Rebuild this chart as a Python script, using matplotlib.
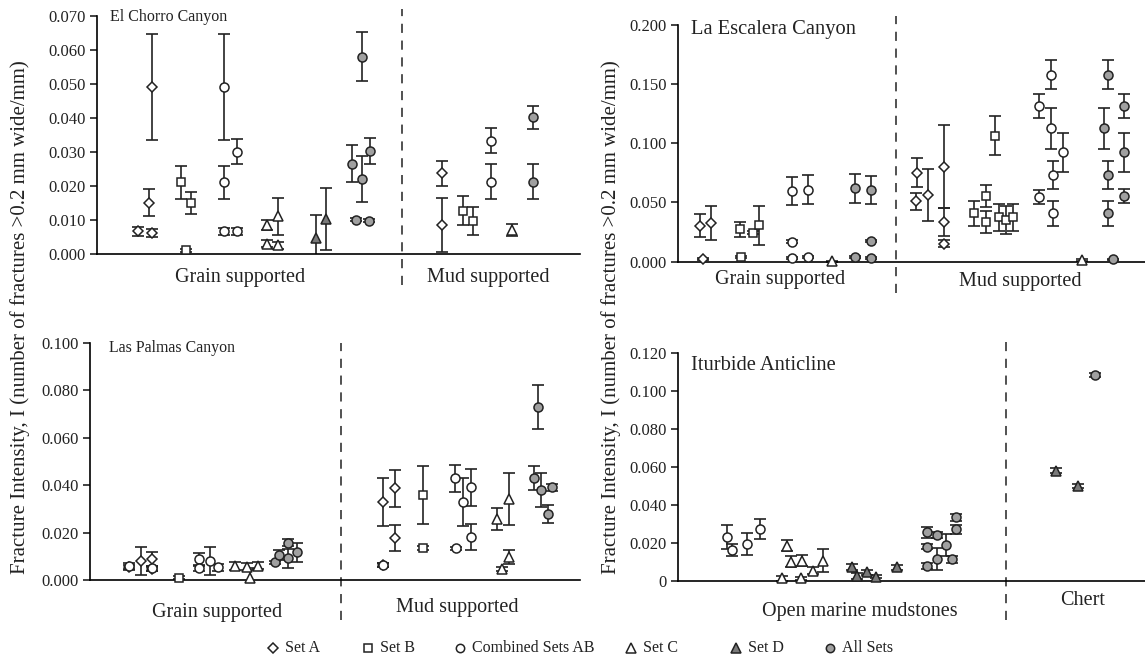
import matplotlib.pyplot as plt
from matplotlib.lines import Line2D
import matplotlib.transforms as mtransforms

plt.rcParams['font.family'] = ['Liberation Serif', 'DejaVu Serif']

# x = sample position along each panel (0-100), y = fracture intensity, e = error
# ---- El Chorro Canyon
ec_a_x = [8.5, 10.8, 11.4, 11.4, 71.5, 71.5]
ec_a_y = [0.0066, 0.015, 0.049, 0.006, 0.0236, 0.0084]
ec_a_e = [0.0013, 0.004, 0.0155, 0.0012, 0.0037, 0.008]
ec_b_x = [17.4, 18.4, 19.5, 75.7, 77.8]
ec_b_y = [0.021, 0.001, 0.015, 0.0127, 0.0096]
ec_b_e = [0.0048, 0.0005, 0.0032, 0.0042, 0.0042]
ec_ab_x = [26.4, 26.4, 26.4, 29.0, 29.0, 81.5, 81.5]
ec_ab_y = [0.049, 0.021, 0.0066, 0.030, 0.0066, 0.0332, 0.0212]
ec_ab_e = [0.0155, 0.0048, 0.001, 0.0037, 0.001, 0.0037, 0.0051]
ec_c_x = [35.1, 37.5, 35.1, 37.5, 86.0]
ec_c_y = [0.0085, 0.011, 0.003, 0.0025, 0.007]
ec_c_e = [0.0015, 0.0055, 0.001, 0.001, 0.0018]
ec_d_x = [45.3, 47.5]
ec_d_y = [0.0045, 0.0102]
ec_d_e = [0.0068, 0.009]
ec_all_x = [52.9, 54.9, 54.9, 56.5, 53.7, 56.3, 90.3, 90.3]
ec_all_y = [0.0265, 0.058, 0.022, 0.0303, 0.0100, 0.0097, 0.0401, 0.0212]
ec_all_e = [0.0054, 0.0073, 0.0067, 0.0038, 0.0005, 0.0005, 0.0033, 0.0051]

# ---- La Escalera Canyon
le_a_x = [4.7, 7.1, 5.4, 51.1, 50.9, 53.6, 57.0, 57.0, 57.0]
le_a_y = [0.0304, 0.0329, 0.0023, 0.0751, 0.0509, 0.0563, 0.0802, 0.0332, 0.0152]
le_a_e = [0.0099, 0.0143, 0.001, 0.012, 0.007, 0.0222, 0.035, 0.0117, 0.003]
le_b_x = [13.2, 13.5, 16.1, 17.3, 67.9, 66.0, 63.4, 66.0, 68.7, 70.2, 71.8]
le_b_y = [0.0273, 0.0042, 0.0245, 0.0306, 0.1063, 0.0554, 0.0408, 0.0332, 0.0374, 0.0352, 0.0374]
le_b_e = [0.0064, 0.001, 0.001, 0.0164, 0.0163, 0.0094, 0.0105, 0.0092, 0.0115, 0.0117, 0.0115]
le_ab_x = [24.4, 27.8, 24.4, 24.4, 27.8, 77.2, 77.2, 79.9, 79.9, 80.2, 80.2, 82.4]
le_ab_y = [0.0597, 0.0608, 0.0169, 0.0033, 0.0042, 0.1314, 0.0549, 0.1578, 0.1125, 0.0731, 0.0408, 0.0923]
le_ab_e = [0.012, 0.012, 0.001, 0.0008, 0.0008, 0.01, 0.006, 0.012, 0.0176, 0.0115, 0.0108, 0.0165]
le_c_x = [33.0, 86.6]
le_c_y = [0.0005, 0.0015]
le_c_e = [0.0005, 0.0005]
le_all_x = [37.9, 41.3, 41.3, 41.3, 37.9, 92.1, 91.3, 92.0, 92.0, 93.2, 95.4, 95.4, 95.5]
le_all_y = [0.0619, 0.0605, 0.0177, 0.0028, 0.0042, 0.1578, 0.1125, 0.0731, 0.0408, 0.002, 0.1314, 0.0923, 0.0557]
le_all_e = [0.012, 0.012, 0.001, 0.0008, 0.0008, 0.012, 0.0176, 0.0115, 0.0108, 0.0005, 0.01, 0.0165, 0.006]

# ---- Las Palmas Canyon
lp_a_x = [8.0, 10.4, 12.6, 12.6, 59.7, 59.7, 62.2, 62.2]
lp_a_y = [0.0053, 0.0081, 0.0088, 0.0046, 0.0063, 0.033, 0.0386, 0.0178]
lp_a_e = [0.001, 0.0059, 0.003, 0.001, 0.001, 0.0101, 0.0078, 0.0054]
lp_b_x = [18.2, 67.9, 68.0]
lp_b_y = [0.001, 0.0358, 0.0136]
lp_b_e = [0.0005, 0.0123, 0.0008]
lp_ab_x = [8.0, 12.6, 22.3, 22.3, 24.5, 26.2, 59.7, 74.5, 74.7, 76.2, 77.7, 77.7]
lp_ab_y = [0.0059, 0.0049, 0.0088, 0.0049, 0.0081, 0.0053, 0.0063, 0.0428, 0.0133, 0.033, 0.039, 0.018]
lp_ab_e = [0.0012, 0.001, 0.0025, 0.001, 0.0059, 0.0015, 0.001, 0.0057, 0.0008, 0.0101, 0.0078, 0.0054]
lp_c_x = [29.6, 32.0, 32.7, 34.2, 83.0, 85.4, 84.0, 85.6]
lp_c_y = [0.0059, 0.0056, 0.001, 0.006, 0.0257, 0.0341, 0.0045, 0.0096]
lp_c_e = [0.0015, 0.0015, 0.004, 0.0015, 0.0046, 0.011, 0.0008, 0.003]
lp_all_x = [37.8, 38.6, 40.5, 40.5, 42.2, 90.5, 91.5, 92.0, 94.2, 93.4]
lp_all_y = [0.0074, 0.0105, 0.0157, 0.0091, 0.0117, 0.0431, 0.0728, 0.0379, 0.039, 0.0278]
lp_all_e = [0.0008, 0.002, 0.0015, 0.004, 0.004, 0.005, 0.0092, 0.007, 0.0015, 0.0037]

# ---- Iturbide Anticline
ia_ab_x = [10.6, 11.6, 14.8, 17.6]
ia_ab_y = [0.0232, 0.0162, 0.0194, 0.0273]
ia_ab_e = [0.0064, 0.0033, 0.0056, 0.0055]
ia_c_x = [23.4, 22.3, 24.3, 26.5, 26.3, 29.0, 31.0]
ia_c_y = [0.0185, 0.0012, 0.010, 0.0106, 0.0012, 0.0053, 0.0106]
ia_c_e = [0.003, 0.0015, 0.003, 0.003, 0.0008, 0.002, 0.0059]
ia_d_x = [37.3, 38.3, 40.5, 42.5, 46.8, 80.9, 85.7]
ia_d_y = [0.0074, 0.0025, 0.0044, 0.0021, 0.007, 0.0581, 0.0501]
ia_d_e = [0.0015, 0.0015, 0.0015, 0.0008, 0.0015, 0.0012, 0.0012]
ia_all_x = [53.3, 53.4, 53.4, 55.5, 55.5, 57.4, 58.6, 59.5, 59.5, 89.4]
ia_all_y = [0.0255, 0.018, 0.0077, 0.0241, 0.0114, 0.0188, 0.0113, 0.0334, 0.0271, 0.1086]
ia_all_e = [0.003, 0.0015, 0.0015, 0.0015, 0.0059, 0.006, 0.002, 0.002, 0.0025, 0.001]

styles = {
    'A': dict(marker='D', mfc='white', ms=5.5, label='Set A'),
    'B': dict(marker='s', mfc='white', ms=6, label='Set B'),
    'AB': dict(marker='o', mfc='white', ms=6.5, label='Combined Sets AB'),
    'C': dict(marker='^', mfc='white', ms=7, label='Set C'),
    'D': dict(marker='^', mfc='#7a7a7a', ms=7, label='Set D'),
    'All': dict(marker='o', mfc='#a0a0a0', ms=6.5, label='All Sets'),
}

panels = [
    dict(rect=[0.0847, 0.6173, 0.4218, 0.359], ylim=0.070, step=0.010,
         title='El Chorro Canyon', tsize=11.5, tpos=(0.027, 0.996),
         series=[('A', ec_a_x, ec_a_y, ec_a_e), ('B', ec_b_x, ec_b_y, ec_b_e),
                 ('AB', ec_ab_x, ec_ab_y, ec_ab_e), ('C', ec_c_x, ec_c_y, ec_c_e),
                 ('D', ec_d_x, ec_d_y, ec_d_e), ('All', ec_all_x, ec_all_y, ec_all_e)],
         div=63.1, dspan=(-0.13, 1.03),
         cats=[('Grain supported', 29.6, -0.10), ('Mud supported', 81.0, -0.10)]),
    dict(rect=[0.5921, 0.6053, 0.4079, 0.3575], ylim=0.200, step=0.050,
         title='La Escalera Canyon', tsize=14.8, tpos=(0.029, 0.978),
         series=[('A', le_a_x, le_a_y, le_a_e), ('B', le_b_x, le_b_y, le_b_e),
                 ('AB', le_ab_x, le_ab_y, le_ab_e), ('C', le_c_x, le_c_y, le_c_e),
                 ('All', le_all_x, le_all_y, le_all_e)],
         div=46.7, dspan=(-0.132, 1.037),
         cats=[('Grain supported', 21.8, -0.075), ('Mud supported', 73.2, -0.085)]),
    dict(rect=[0.0786, 0.1252, 0.428, 0.3579], ylim=0.100, step=0.020,
         title='Las Palmas Canyon', tsize=11.4, tpos=(0.039, 0.976),
         series=[('A', lp_a_x, lp_a_y, lp_a_e), ('B', lp_b_x, lp_b_y, lp_b_e),
                 ('AB', lp_ab_x, lp_ab_y, lp_ab_e), ('C', lp_c_x, lp_c_y, lp_c_e),
                 ('All', lp_all_x, lp_all_y, lp_all_e)],
         div=51.2, dspan=(-0.168, 1.0),
         cats=[('Grain supported', 25.9, -0.135), ('Mud supported', 74.9, -0.115)]),
    dict(rect=[0.5921, 0.1241, 0.4079, 0.343], ylim=0.120, step=0.020,
         title='Iturbide Anticline', tsize=14.8, tpos=(0.028, 0.945),
         series=[('AB', ia_ab_x, ia_ab_y, ia_ab_e), ('C', ia_c_x, ia_c_y, ia_c_e),
                 ('D', ia_d_x, ia_d_y, ia_d_e), ('All', ia_all_x, ia_all_y, ia_all_e)],
         div=70.2, dspan=(-0.172, 1.05),
         cats=[('Open marine mudstones', 39.0, -0.135), ('Chert', 86.7, -0.085)]),
]

ink = '#222222'
fig = plt.figure(figsize=(11.45, 6.63), dpi=100)

for p in panels:
    ax = fig.add_axes(p['rect'])
    for key, xs, ys, es in p['series']:
        st = styles[key]
        ax.errorbar(xs, ys, yerr=es, fmt='none', ecolor=ink, elinewidth=1.2,
                    capsize=4.5, capthick=1.2, zorder=2)
        ax.plot(xs, ys, linestyle='none', marker=st['marker'], mfc=st['mfc'],
                mec=ink, mew=1.1, ms=st['ms'], zorder=3, clip_on=False)
    ax.set_xlim(0, 100)
    ax.set_ylim(0, p['ylim'])
    n = int(round(p['ylim'] / p['step']))
    ticks = [i * p['step'] for i in range(n + 1)]
    ax.set_yticks(ticks)
    labels = ['{:.3f}'.format(t) for t in ticks]
    if p['title'] == 'Iturbide Anticline':
        labels[0] = '0'
    ax.set_yticklabels(labels, fontsize=12)
    ax.set_xticks([])
    for s in ['top', 'right']:
        ax.spines[s].set_visible(False)
    ax.spines['left'].set_linewidth(1.2)
    ax.spines['bottom'].set_linewidth(1.2)
    ax.tick_params(axis='y', direction='out', length=5, width=1.2, pad=3, colors=ink)
    ax.text(p['tpos'][0], p['tpos'][1], p['title'], transform=ax.transAxes,
            fontsize=p['tsize'], va='center', ha='left', color=ink)
    trans = mtransforms.blended_transform_factory(ax.transData, ax.transAxes)
    ax.plot([p['div'], p['div']], list(p['dspan']), transform=trans, color=ink,
            lw=1.1, linestyle=(0, (6, 5)), clip_on=False)
    for txt, cx, cy in p['cats']:
        ax.text(cx, cy, txt, transform=trans, ha='center', va='center', fontsize=14.5,
                color=ink)

ylab = 'Fracture Intensity, I (number of fractures >0.2 mm wide/mm)'
fig.text(0.0175, 0.522, ylab, rotation=90, ha='center', va='center', fontsize=15,
         color=ink)
fig.text(0.534, 0.522, ylab, rotation=90, ha='center', va='center', fontsize=15,
         color=ink)

# legend row, placed by hand to match the original spacing
legend_x = [0.2384, 0.3214, 0.4017, 0.5515, 0.6428, 0.7249]
legend_y = 0.0226
for lx, st in zip(legend_x, styles.values()):
    fig.add_artist(Line2D([lx], [legend_y], linestyle='none', marker=st['marker'],
                          mfc=st['mfc'], mec=ink, mew=1.1, ms=st['ms'] - 0.5,
                          transform=fig.transFigure))
    fig.text(lx + 0.0105, legend_y, st['label'], ha='left', va='center',
             fontsize=11.5, color=ink)

fig.savefig('out.png', dpi=100)
